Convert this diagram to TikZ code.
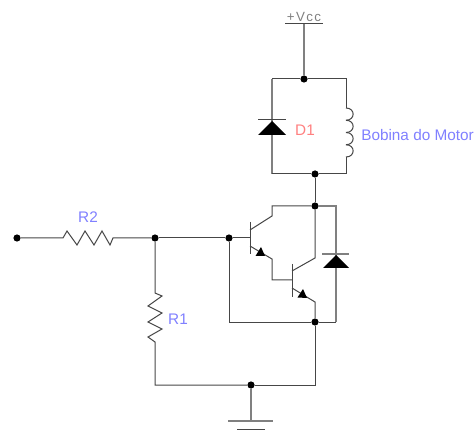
\documentclass[tikz,border=0pt]{standalone}
\usepackage{fontspec}
\setmainfont{Liberation Sans}
\newfontfamily\vccfont[LetterSpace=10]{Liberation Sans}
\usetikzlibrary{positioning}
\definecolor{wirecol}{RGB}{70,70,70}
\definecolor{labblue}{RGB}{128,128,255}
\definecolor{labred}{RGB}{255,128,128}
\begin{document}
\begin{tikzpicture}
        [x=0.75pt, y=-0.75pt, node distance=0pt,
        wire/.style={draw=wirecol, line width=0.75pt},
        greywire/.style={draw=black!50, line width=1.1pt},
        junction/.style={circle, fill=black, inner sep=0pt, minimum size=5.4pt},
        lab/.style={inner sep=0pt, font=\fontsize{11.5}{13}\selectfont}]
        \useasboundingbox (0,0) rectangle (474,434);

        \node [junction] (vccdot) at (304,79)  {};
        \node [junction] (coildot) at (315,174) {};
        \node [junction] (coldot) at (315,206) {};
        \node [junction] (emdot)  at (315,322) {};
        \node [junction] (basedot) at (229,238) {};
        \node [junction] (middot) at (155,238) {};
        \node [junction] (indot)  at (17,238)  {};
        \node [junction] (gnddot) at (251,385) {};

        \coordinate (vcc) at (304,24);
        \coordinate (dtl) at (272,79);
        \coordinate (dbl) at (272,174);
        \coordinate (ctr) at (346,79);
        \coordinate (cbr) at (346,174);
        \coordinate (coiltop) at (346,108);
        \coordinate (coilbot) at (346,157);
        \coordinate (gnd) at (251,421);
        \coordinate (r2a) at (63,238);
        \coordinate (r2b) at (113,238);
        \coordinate (r1a) at (155,293);
        \coordinate (r1b) at (155,342);
        \coordinate (t1b) at (250,238);
        \coordinate (t2b) at (292,280);

        % supply and ground
        \draw [wire] (285,24) -- (323,24);
        \draw [greywire] (vcc) -- (vccdot);
        \draw [greywire, line width=1.6pt] (228,421) -- (273,421);
        \draw [wire] (237,429) -- (265,429);
        \draw [greywire] (gnddot) -- (gnd);

        % flyback diode and coil
        \draw [wire] (vccdot) -- (dtl);
        \draw [greywire] (dtl) -- (dbl);
        \draw [wire] (dbl) -- (coildot);
        \draw [wire] (coildot) -- (cbr) -- (coilbot);
        \draw [wire] (vccdot) -- (ctr) -- (coiltop);
        \foreach \i in {0,...,3}
          \draw [wire] (346,108+12.25*\i) .. controls +(9.5,0) and +(9.5,0) .. +(0,12.25);
        \draw [wire] (258,120) -- (286,120);
        \fill (272,121) -- (286,135) -- (258,135) -- cycle;

        % input and resistors
        \draw [wire] (indot) -- (r2a) -- (67,231) -- (77,245) -- (85,231) -- (94,245)
          -- (102,231) -- (110,245) -- (r2b) -- (middot);
        \draw [wire] (middot) -- (r1a) -- (162,296) -- (148,306) -- (162,313) -- (148,322)
          -- (162,329) -- (148,337) -- (r1b) -- (155,385) -- (gnddot);
        \draw [wire] (gnddot) -- (315,385) -- (emdot);
        \draw [wire] (middot) -- (basedot);
        \draw [wire] (basedot) -- (t1b);

        % darlington pair
        \draw [wire] (coildot) -- (coldot);
        \draw [wire] (250,222) -- (250,254);
        \draw [wire] (coldot) -- (272,206) -- (272,216) -- (250,230);
        \draw [wire] (250,246) -- (272,259) -- (272,280) -- (t2b);
        \draw [wire] (292,264) -- (292,297);
        \draw [wire] (coldot) -- (315,258) -- (292,271);
        \draw [wire] (292,288) -- (315,302) -- (emdot);
        \fill (261,247) -- (265,256) -- (255.5,256) -- cycle;
        \fill (303,289) -- (307,298) -- (297.5,297.5) -- cycle;
        \draw [wire] (basedot) -- (229,322) -- (emdot);

        % clamp diode
        \draw [greywire] (coldot) -- (336,206) -- (336,322);
        \draw [wire] (336,322) -- (emdot);
        \draw [greywire] (322,254) -- (349,254);
        \fill (336,255) -- (349,268) -- (323,268) -- cycle;

        % labels
        \node [lab, text=labblue] (r2lab) at (88,217) {R2};
        \node [lab, text=labblue] (r1lab) at (178,319) {R1};
        \node [lab, text=labred]  (d1lab) at (305,130) {D1};
        \node [lab, text=labblue, anchor=west] (coillab) at (361,135) {Bobina do Motor};
        \node [text=black!50, inner sep=0pt, font=\vccfont\fontsize{10}{12}\selectfont] (vcclab) at (304,17) {+Vcc};
        \end{tikzpicture}
\end{document}
